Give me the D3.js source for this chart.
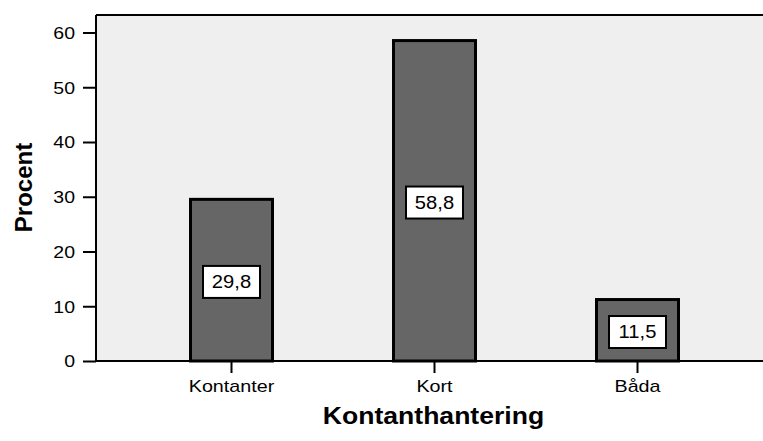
<!DOCTYPE html>
<html><head><meta charset="utf-8">
<script src="https://cdn.jsdelivr.net/npm/d3@7"></script>
<style>body{margin:0;background:#fff}svg{display:block;font-family:"Liberation Sans",Arial,sans-serif}</style>
</head><body>
<script>
const categories = ["Kontanter", "Kort", "Båda"];
const values = [29.8, 58.8, 11.5];
const labels = ["29,8", "58,8", "11,5"];
const yTicks = [0, 10, 20, 30, 40, 50, 60];

const W = 763, H = 441;
const svg = d3.select("body").append("svg").attr("width", W).attr("height", H);

function stretch(sel, k) {
  sel.each(function () {
    const l = this.getComputedTextLength();
    d3.select(this).attr("textLength", l * k).attr("lengthAdjust", "spacingAndGlyphs");
  });
}

const plotL = 96, plotT = 15, plotB = 361, plotR = 770;
const y = d3.scaleLinear().domain([0, 60]).range([plotB, 32.5]);
const x = d3.scaleBand().domain(categories).range([130, 739]).paddingInner(0.58).paddingOuter(0.29);

svg.append("rect").attr("x", plotL).attr("y", plotT).attr("width", plotR - plotL).attr("height", plotB - plotT).attr("fill", "#efefef");
svg.append("line").attr("x1", plotL).attr("x2", plotR).attr("y1", plotT).attr("y2", plotT).attr("stroke", "#000").attr("stroke-width", 2);

// bars
const bw = 85;
const g = svg.append("g");
categories.forEach((c, i) => {
  const cx = x(c) + x.bandwidth() / 2;
  g.append("rect").attr("x", cx - bw / 2 + 1.5).attr("y", y(values[i]) + 1.5)
    .attr("width", bw - 3).attr("height", y(0) - y(values[i]) - 1.5)
    .attr("fill", "#666666").attr("stroke", "#000").attr("stroke-width", 3);
});

// y axis
const ya = svg.append("g").attr("transform", `translate(${plotL},0)`)
  .call(d3.axisLeft(y).tickValues(yTicks).tickSize(13).tickPadding(8));
ya.select(".domain").attr("stroke", "#000").attr("stroke-width", 2).attr("d", `M0,${plotT}V${plotB}`);
ya.selectAll(".tick line").attr("stroke", "#000").attr("stroke-width", 2);
ya.selectAll(".tick text").attr("font-size", 16.5).attr("fill", "#000").attr("font-family", "Liberation Sans, Arial, sans-serif").attr("dy", "0.36em");
stretch(ya.selectAll(".tick text"), 1.18);

// x axis
const xa = svg.append("g").attr("transform", `translate(0,${plotB})`)
  .call(d3.axisBottom(x).tickSize(12).tickPadding(0));
xa.select(".domain").attr("stroke", "#000").attr("stroke-width", 2).attr("d", `M${plotL},0H${plotR}`);
xa.selectAll(".tick line").attr("stroke", "#000").attr("stroke-width", 2);
xa.selectAll(".tick text").attr("font-size", 17).attr("fill", "#000").attr("font-family", "Liberation Sans, Arial, sans-serif")
  .attr("y", 31).attr("dy", null);
stretch(xa.selectAll(".tick text"), 1.16);

// value labels
categories.forEach((c, i) => {
  const cx = x(c) + x.bandwidth() / 2;
  const cy = (y(0) + y(values[i])) / 2 + 2.5;
  svg.append("rect").attr("x", cx - 28.5).attr("y", cy - 16).attr("width", 57).attr("height", 32)
    .attr("fill", "#fff").attr("stroke", "#000").attr("stroke-width", 2);
  const t = svg.append("text").attr("x", cx).attr("y", cy + 6).attr("text-anchor", "middle")
    .attr("font-size", 18).attr("fill", "#000").text(labels[i]);
  stretch(t, 1.12);
});

// titles
const tt = svg.append("text").attr("x", 433.5).attr("y", 424).attr("text-anchor", "middle")
  .attr("font-size", 23.5).attr("font-weight", "bold").text("Kontanthantering");
stretch(tt, 1.13);
svg.append("text").attr("transform", `translate(32,187.5) rotate(-90)`).attr("text-anchor", "middle")
  .attr("font-size", 24).attr("font-weight", "bold").text("Procent");
</script>
</body></html>
